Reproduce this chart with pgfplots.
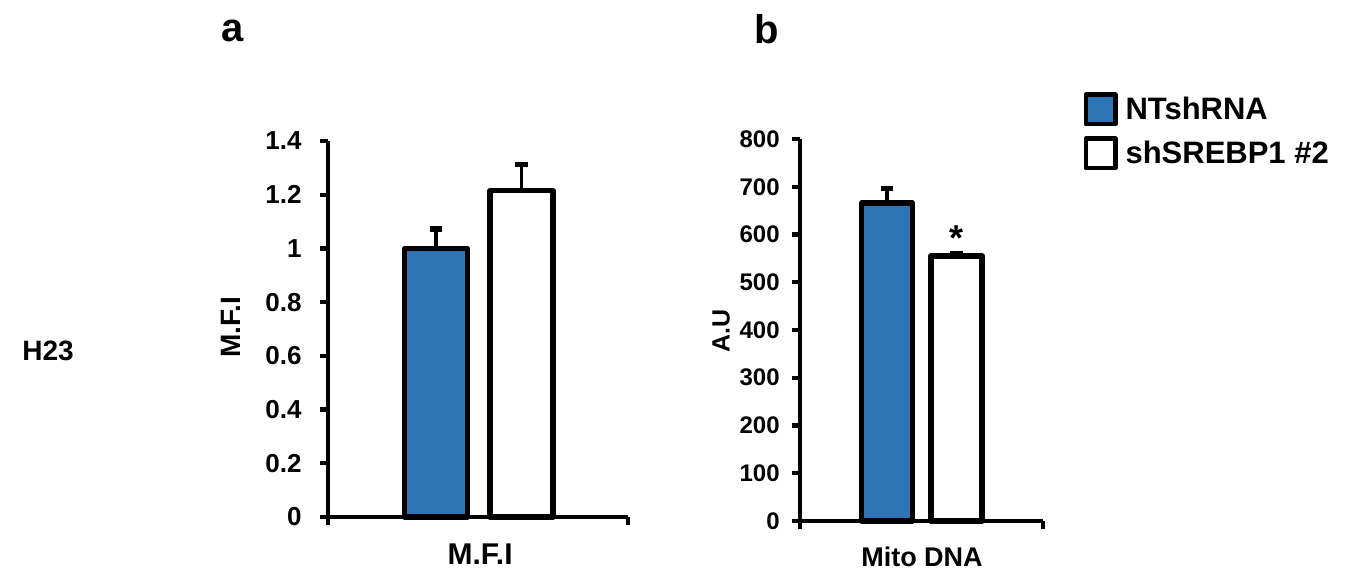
\documentclass[border=0pt]{standalone}
\usepackage{fontspec}
\setmainfont{Liberation Sans}
\usepackage{pgfplots}
\pgfplotsset{compat=1.18}
\definecolor{barblue}{RGB}{46,116,181}
\newcommand{\fs}[1]{\fontsize{#1}{#1}\selectfont\bfseries}

\pgfplotsset{
  panel/.style={
    scale only axis,
    axis x line=bottom, axis y line=left,
    axis line style={-, line width=2.4pt, black},
    tick align=outside, major tick length=4pt,
    tick style={line width=2.2pt, black},
    xmin=-0.5, xmax=0.5, ymin=0,
    xtick={-0.5,0.5}, xticklabels={},
    /pgf/number format/assume math mode=true,
    yticklabel style={inner sep=0pt},
    ylabel style={anchor=center},
    xlabel style={anchor=center},
    clip=false,
  },
  barstyle/.style={
    ybar, bar width=0.21, bar shift=0pt, line width=2.6pt, line join=round, draw=black,
    error bars/y dir=plus, error bars/y explicit,
    error bars/error mark=-,
    error bars/error bar style={line width=1.6pt, black},
    error bars/error mark options={rotate=90, line width=2.6pt, mark size=3.2pt, black},
  },
}

\begin{document}
\begin{tikzpicture}
\path[use as bounding box] (0,0) rectangle (674pt,291pt);

\node[anchor=center] at (116.5pt,275.5pt) {\fs{20}a};
\node[anchor=center] at (383.5pt,276.5pt) {\fs{20}b};
\node[anchor=west, inner sep=0pt] at (11pt,115.5pt) {\fs{14}H23};

% panel a
\begin{axis}[panel,
  at={(164pt,32.5pt)}, anchor=south west,
  width=150pt, height=188pt,
  ymax=1.4, ytick={0,0.2,...,1.4},
  yticklabel style={font=\fs{13}, xshift=-9pt},
  ylabel={M.F.I}, ylabel style={font=\fs{14}, at={(axis description cs:-0.323,0.505)}},
  xlabel={M.F.I}, xlabel style={font=\fs{15}, at={(axis description cs:0.507,-0.098)}},
]
\addplot[barstyle, fill=barblue] coordinates {(-0.14,1.00) +- (0,0.072)};
\addplot[barstyle, fill=white] coordinates {(0.145,1.215) +- (0,0.098)};
\end{axis}

% panel b
\begin{axis}[panel,
  at={(400pt,30.5pt)}, anchor=south west,
  width=121.5pt, height=191pt,
  ymax=800, ytick={0,100,...,800},
  yticklabel style={font=\fs{12}, xshift=-6pt},
  ylabel={A.U}, ylabel style={font=\fs{12.5}, at={(axis description cs:-0.325,0.497)}},
  xlabel={Mito DNA}, xlabel style={font=\fs{13.5}, at={(axis description cs:0.502,-0.094)}},
  legend style={at={(1.165,1.123)}, anchor=north west, draw=none, fill=none,
    inner sep=0pt, font=\fs{15.5}, row sep=5pt, column sep=2pt,
    nodes={inner sep=2pt}},
  legend cell align=left,
  legend image code/.code={\draw[#1, line width=2.4pt] (0pt,-7.3pt) rectangle (14.6pt,7.3pt);},
]
\addplot[barstyle, fill=barblue] coordinates {(-0.142,666) +- (0,30)};
\addplot[barstyle, fill=white] coordinates {(0.144,555) +- (0,4)};
\node[anchor=base] at (axis cs:0.144,559) [yshift=2pt] {\fs{18}*};
\legend{NTshRNA, shSREBP1 \#2}
\end{axis}
\end{tikzpicture}
\end{document}
